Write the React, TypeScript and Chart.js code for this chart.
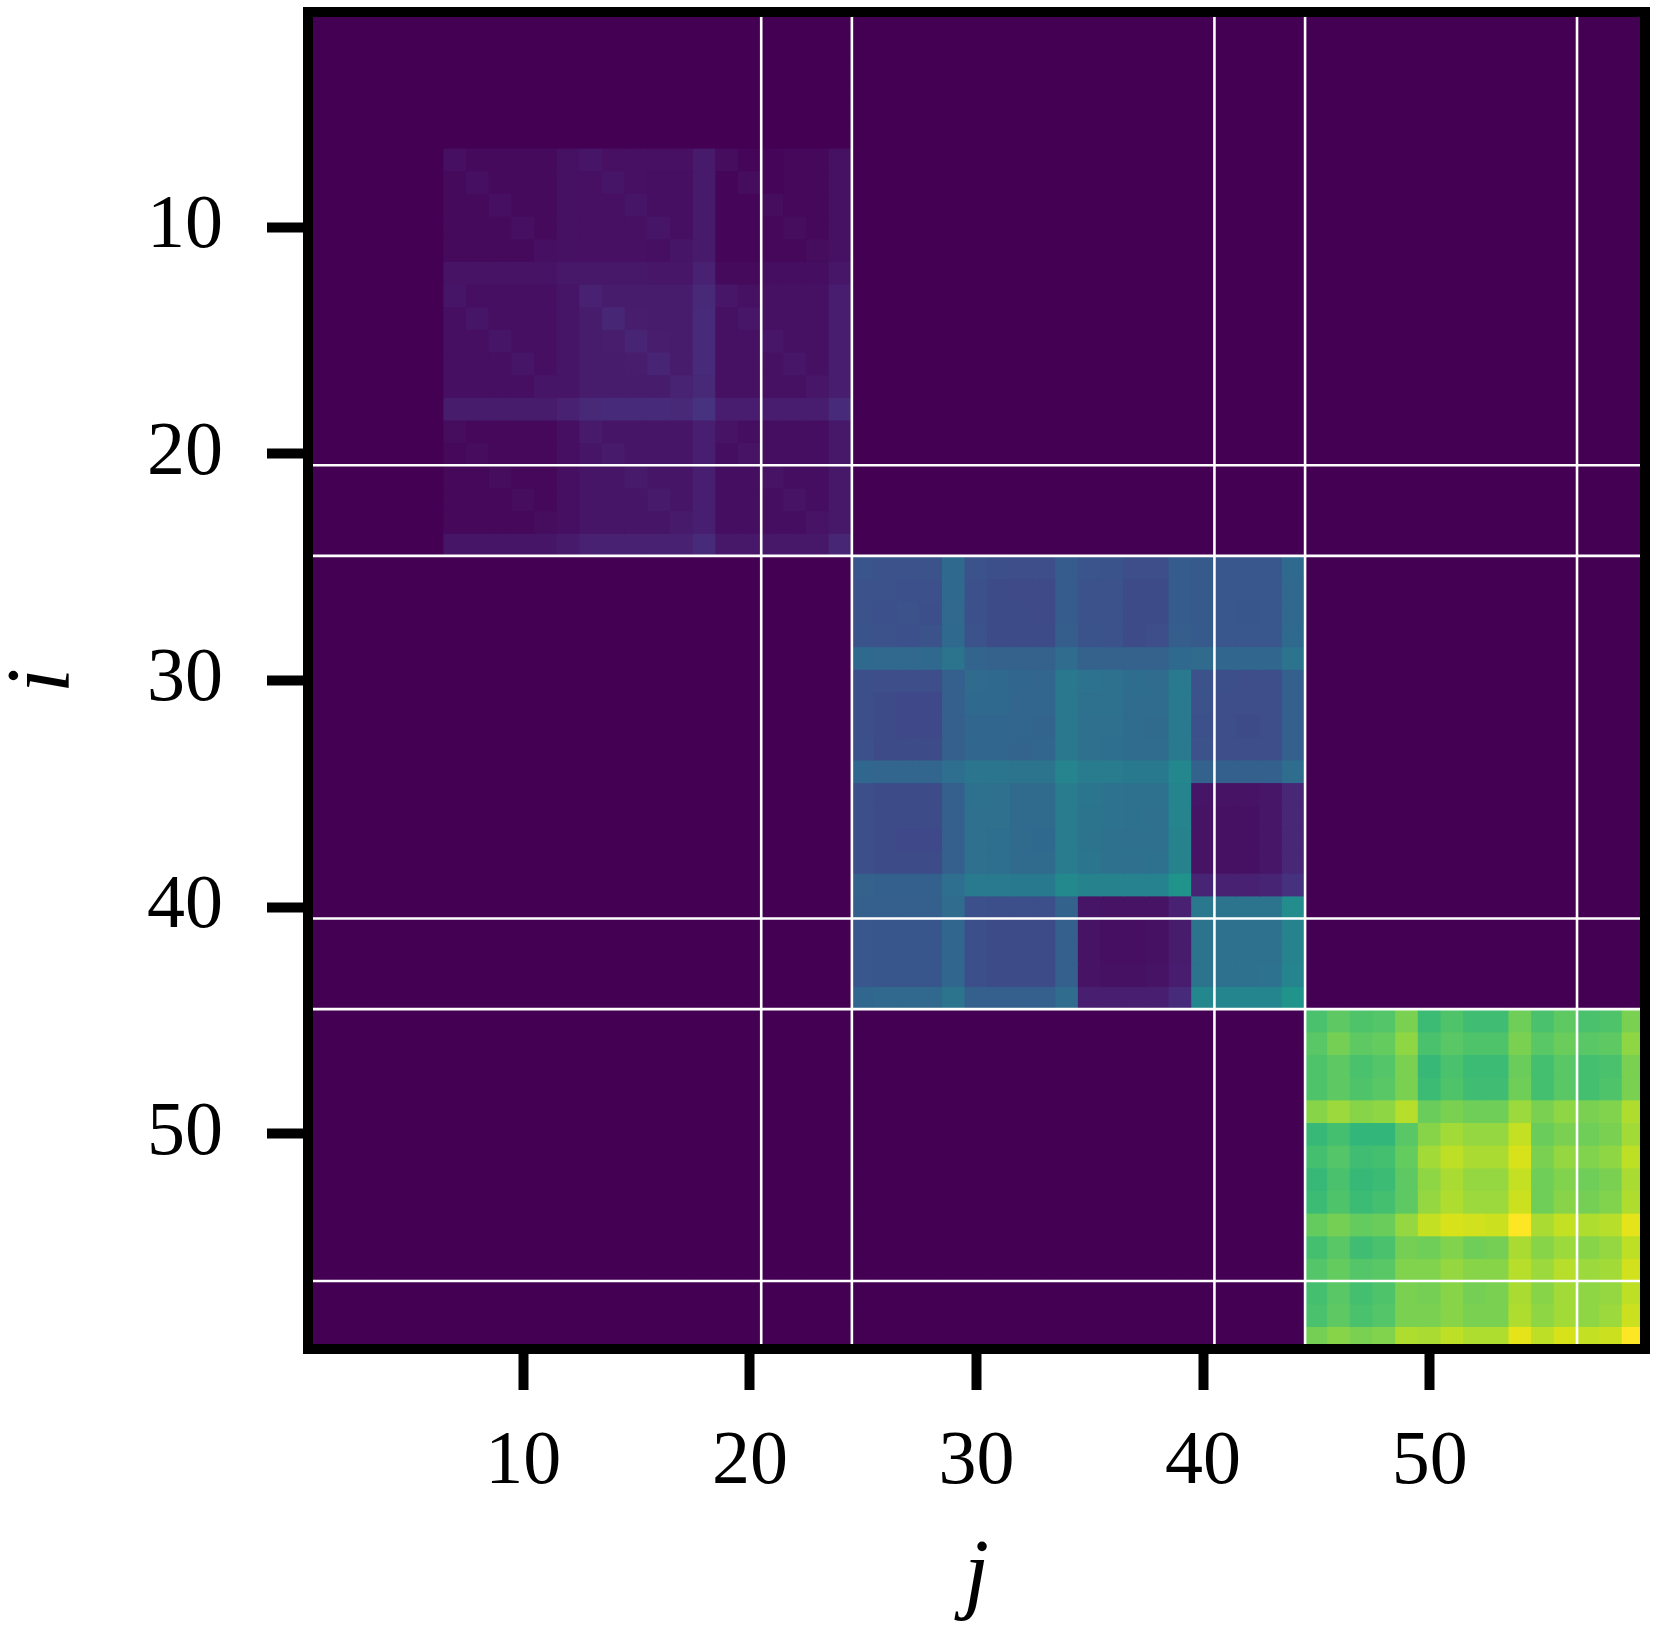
import React, { useEffect, useRef } from "react";
import { Chart, registerables } from "chart.js";

Chart.register(...registerables);

// ---------------- data ----------------
const GRID_SIZE = 59;
const tickValues = [10, 20, 30, 40, 50];
const separatorLines = [20.5, 24.5, 40.5, 44.5, 56.5];
const axisTitleX = "j";
const axisTitleY = "i";

// first row/column index (1-based) of each non-zero diagonal block
const blockStarts = [7, 25, 45];

// block rows 7..24, columns 7..24
const block1: number[][] = [
  [0.04, 0.025, 0.025, 0.025, 0.025, 0.045, 0.055, 0.042, 0.042, 0.042, 0.042, 0.07, 0.03, 0.015, 0.015, 0.02, 0.02, 0.045],
  [0.025, 0.04, 0.025, 0.025, 0.025, 0.045, 0.042, 0.055, 0.042, 0.04, 0.04, 0.07, 0.015, 0.03, 0.015, 0.02, 0.02, 0.045],
  [0.025, 0.025, 0.04, 0.025, 0.025, 0.045, 0.042, 0.042, 0.055, 0.04, 0.04, 0.072, 0.015, 0.015, 0.03, 0.02, 0.02, 0.045],
  [0.025, 0.025, 0.025, 0.04, 0.025, 0.045, 0.042, 0.042, 0.042, 0.055, 0.04, 0.072, 0.015, 0.015, 0.02, 0.032, 0.02, 0.045],
  [0.025, 0.025, 0.025, 0.025, 0.04, 0.045, 0.042, 0.042, 0.042, 0.04, 0.055, 0.072, 0.015, 0.015, 0.02, 0.02, 0.032, 0.045],
  [0.05, 0.05, 0.05, 0.05, 0.05, 0.065, 0.062, 0.062, 0.062, 0.06, 0.06, 0.09, 0.025, 0.025, 0.035, 0.035, 0.035, 0.06],
  [0.055, 0.04, 0.04, 0.04, 0.04, 0.057, 0.09, 0.075, 0.075, 0.075, 0.075, 0.115, 0.06, 0.045, 0.045, 0.045, 0.045, 0.08],
  [0.04, 0.055, 0.04, 0.04, 0.04, 0.057, 0.075, 0.105, 0.078, 0.075, 0.075, 0.12, 0.045, 0.06, 0.045, 0.045, 0.045, 0.08],
  [0.04, 0.04, 0.055, 0.04, 0.04, 0.057, 0.075, 0.078, 0.1, 0.078, 0.075, 0.12, 0.045, 0.045, 0.06, 0.045, 0.045, 0.08],
  [0.04, 0.04, 0.04, 0.055, 0.04, 0.057, 0.075, 0.075, 0.078, 0.1, 0.075, 0.118, 0.045, 0.045, 0.045, 0.06, 0.045, 0.08],
  [0.04, 0.04, 0.04, 0.04, 0.055, 0.057, 0.075, 0.075, 0.075, 0.075, 0.095, 0.115, 0.045, 0.045, 0.045, 0.045, 0.06, 0.08],
  [0.075, 0.075, 0.075, 0.075, 0.075, 0.09, 0.115, 0.12, 0.12, 0.12, 0.115, 0.145, 0.08, 0.08, 0.08, 0.08, 0.08, 0.12],
  [0.03, 0.02, 0.02, 0.02, 0.02, 0.04, 0.07, 0.055, 0.055, 0.055, 0.055, 0.085, 0.05, 0.035, 0.035, 0.035, 0.035, 0.065],
  [0.02, 0.03, 0.02, 0.02, 0.02, 0.04, 0.055, 0.07, 0.055, 0.055, 0.055, 0.085, 0.035, 0.05, 0.035, 0.035, 0.035, 0.065],
  [0.02, 0.02, 0.03, 0.02, 0.02, 0.04, 0.055, 0.055, 0.07, 0.055, 0.055, 0.085, 0.035, 0.035, 0.05, 0.035, 0.035, 0.065],
  [0.02, 0.02, 0.02, 0.03, 0.02, 0.04, 0.055, 0.055, 0.055, 0.07, 0.055, 0.085, 0.035, 0.035, 0.035, 0.05, 0.035, 0.065],
  [0.02, 0.02, 0.02, 0.02, 0.03, 0.04, 0.055, 0.055, 0.055, 0.055, 0.07, 0.085, 0.035, 0.035, 0.035, 0.035, 0.05, 0.065],
  [0.055, 0.055, 0.055, 0.055, 0.055, 0.07, 0.09, 0.09, 0.09, 0.09, 0.09, 0.12, 0.065, 0.065, 0.065, 0.065, 0.065, 0.105],
];

// block rows 25..44, columns 25..44
const block2: number[][] = [
  [0.26, 0.25, 0.25, 0.25, 0.34, 0.25, 0.24, 0.235, 0.235, 0.29, 0.26, 0.255, 0.235, 0.235, 0.29, 0.28, 0.27, 0.27, 0.27, 0.34],
  [0.25, 0.25, 0.245, 0.245, 0.34, 0.245, 0.225, 0.22, 0.22, 0.29, 0.25, 0.25, 0.23, 0.23, 0.29, 0.28, 0.27, 0.27, 0.27, 0.335],
  [0.25, 0.245, 0.25, 0.24, 0.335, 0.245, 0.225, 0.225, 0.22, 0.29, 0.25, 0.25, 0.23, 0.23, 0.29, 0.28, 0.27, 0.265, 0.27, 0.335],
  [0.255, 0.25, 0.245, 0.25, 0.34, 0.25, 0.23, 0.225, 0.225, 0.295, 0.255, 0.25, 0.23, 0.235, 0.295, 0.28, 0.27, 0.27, 0.27, 0.34],
  [0.34, 0.335, 0.335, 0.34, 0.38, 0.32, 0.31, 0.31, 0.31, 0.35, 0.31, 0.31, 0.31, 0.31, 0.34, 0.345, 0.33, 0.33, 0.33, 0.38],
  [0.24, 0.235, 0.235, 0.235, 0.3, 0.345, 0.34, 0.33, 0.325, 0.4, 0.375, 0.37, 0.355, 0.35, 0.41, 0.25, 0.24, 0.235, 0.235, 0.3],
  [0.24, 0.225, 0.215, 0.215, 0.3, 0.34, 0.34, 0.325, 0.325, 0.4, 0.37, 0.37, 0.35, 0.35, 0.41, 0.25, 0.235, 0.235, 0.235, 0.3],
  [0.24, 0.225, 0.215, 0.215, 0.3, 0.33, 0.33, 0.325, 0.32, 0.4, 0.365, 0.365, 0.35, 0.345, 0.41, 0.245, 0.235, 0.23, 0.235, 0.3],
  [0.245, 0.23, 0.225, 0.225, 0.3, 0.33, 0.33, 0.32, 0.325, 0.4, 0.365, 0.36, 0.35, 0.35, 0.41, 0.25, 0.235, 0.235, 0.235, 0.3],
  [0.33, 0.325, 0.325, 0.325, 0.36, 0.39, 0.39, 0.385, 0.385, 0.45, 0.415, 0.415, 0.405, 0.405, 0.46, 0.315, 0.305, 0.305, 0.305, 0.355],
  [0.24, 0.23, 0.23, 0.23, 0.3, 0.37, 0.365, 0.345, 0.345, 0.415, 0.39, 0.375, 0.37, 0.37, 0.45, 0.055, 0.05, 0.05, 0.06, 0.11],
  [0.24, 0.23, 0.225, 0.23, 0.3, 0.365, 0.365, 0.345, 0.345, 0.415, 0.385, 0.375, 0.37, 0.365, 0.45, 0.05, 0.045, 0.045, 0.06, 0.11],
  [0.24, 0.225, 0.215, 0.215, 0.3, 0.365, 0.36, 0.345, 0.34, 0.415, 0.385, 0.37, 0.365, 0.365, 0.445, 0.05, 0.045, 0.045, 0.06, 0.11],
  [0.24, 0.23, 0.225, 0.225, 0.3, 0.365, 0.36, 0.345, 0.345, 0.415, 0.39, 0.37, 0.365, 0.37, 0.445, 0.05, 0.045, 0.045, 0.06, 0.11],
  [0.31, 0.305, 0.305, 0.305, 0.36, 0.41, 0.41, 0.405, 0.405, 0.47, 0.445, 0.445, 0.44, 0.44, 0.51, 0.1, 0.09, 0.09, 0.1, 0.14],
  [0.3, 0.3, 0.3, 0.3, 0.35, 0.245, 0.24, 0.24, 0.24, 0.315, 0.055, 0.05, 0.05, 0.05, 0.09, 0.4, 0.385, 0.38, 0.38, 0.48],
  [0.27, 0.265, 0.265, 0.265, 0.33, 0.24, 0.23, 0.23, 0.23, 0.3, 0.05, 0.04, 0.04, 0.045, 0.075, 0.38, 0.37, 0.37, 0.37, 0.445],
  [0.27, 0.265, 0.265, 0.265, 0.33, 0.24, 0.23, 0.23, 0.23, 0.3, 0.05, 0.04, 0.04, 0.045, 0.075, 0.38, 0.37, 0.37, 0.37, 0.445],
  [0.27, 0.265, 0.265, 0.265, 0.33, 0.24, 0.23, 0.23, 0.23, 0.3, 0.05, 0.045, 0.045, 0.05, 0.08, 0.38, 0.37, 0.37, 0.375, 0.45],
  [0.33, 0.335, 0.335, 0.335, 0.38, 0.3, 0.3, 0.3, 0.3, 0.35, 0.085, 0.085, 0.085, 0.085, 0.12, 0.46, 0.455, 0.455, 0.455, 0.51],
];

// block rows 45..59, columns 45..59
const block3: number[][] = [
  [0.71, 0.75, 0.72, 0.73, 0.8, 0.68, 0.72, 0.69, 0.69, 0.78, 0.71, 0.75, 0.71, 0.72, 0.8],
  [0.74, 0.79, 0.75, 0.76, 0.83, 0.71, 0.74, 0.72, 0.72, 0.8, 0.74, 0.77, 0.74, 0.75, 0.83],
  [0.72, 0.75, 0.71, 0.73, 0.8, 0.67, 0.71, 0.68, 0.68, 0.77, 0.7, 0.74, 0.7, 0.71, 0.8],
  [0.72, 0.75, 0.72, 0.74, 0.8, 0.68, 0.72, 0.69, 0.69, 0.78, 0.7, 0.74, 0.7, 0.72, 0.8],
  [0.82, 0.85, 0.82, 0.83, 0.89, 0.77, 0.8, 0.78, 0.78, 0.85, 0.8, 0.83, 0.8, 0.81, 0.88],
  [0.67, 0.7, 0.66, 0.66, 0.74, 0.82, 0.86, 0.84, 0.84, 0.91, 0.77, 0.8, 0.78, 0.8, 0.86],
  [0.7, 0.73, 0.69, 0.7, 0.76, 0.86, 0.9, 0.87, 0.87, 0.94, 0.8, 0.84, 0.81, 0.83, 0.9],
  [0.67, 0.71, 0.67, 0.68, 0.75, 0.83, 0.87, 0.84, 0.84, 0.91, 0.78, 0.81, 0.78, 0.8, 0.87],
  [0.68, 0.72, 0.68, 0.7, 0.75, 0.84, 0.88, 0.85, 0.85, 0.92, 0.78, 0.82, 0.79, 0.81, 0.88],
  [0.76, 0.79, 0.76, 0.77, 0.84, 0.91, 0.94, 0.93, 0.92, 1.0, 0.87, 0.91, 0.88, 0.89, 0.96],
  [0.7, 0.74, 0.69, 0.71, 0.79, 0.78, 0.81, 0.78, 0.79, 0.87, 0.82, 0.85, 0.82, 0.84, 0.9],
  [0.73, 0.76, 0.73, 0.74, 0.81, 0.81, 0.84, 0.82, 0.82, 0.89, 0.85, 0.89, 0.85, 0.86, 0.93],
  [0.7, 0.74, 0.7, 0.72, 0.8, 0.79, 0.82, 0.79, 0.8, 0.87, 0.82, 0.86, 0.83, 0.84, 0.9],
  [0.71, 0.75, 0.71, 0.73, 0.8, 0.8, 0.82, 0.8, 0.8, 0.88, 0.83, 0.86, 0.83, 0.85, 0.92],
  [0.79, 0.82, 0.8, 0.81, 0.88, 0.87, 0.9, 0.88, 0.88, 0.96, 0.9, 0.94, 0.91, 0.92, 1.0],
];

// ---------------- style ----------------
const FONT_FAMILY = "'Liberation Serif', 'Times New Roman', serif";
const VIRIDIS_STOPS = [
  "#440154", "#471365", "#482475", "#463480", "#414487", "#3b528b", "#355f8d",
  "#2f6c8e", "#2a788e", "#25848e", "#21918c", "#1e9c89", "#22a884", "#2fb47c",
  "#44bf70", "#5ec962", "#7ad151", "#9bd93c", "#bddf26", "#dfe318", "#fde725",
];

function hexToRgb(h: string): number[] {
  return [1, 3, 5].map((k) => parseInt(h.slice(k, k + 2), 16));
}
const VIRIDIS_RGB = VIRIDIS_STOPS.map(hexToRgb);

function viridis(v: number): string {
  const t = Math.max(0, Math.min(1, v)) * (VIRIDIS_RGB.length - 1);
  const i = Math.min(Math.floor(t), VIRIDIS_RGB.length - 2);
  const f = t - i;
  const a = VIRIDIS_RGB[i];
  const b = VIRIDIS_RGB[i + 1];
  const c = a.map((x, k) => Math.round(x + (b[k] - x) * f));
  return `rgb(${c[0]},${c[1]},${c[2]})`;
}

function buildMatrix(): number[][] {
  const m: number[][] = [];
  for (let r = 0; r < GRID_SIZE; r++) m.push(new Array(GRID_SIZE).fill(0));
  [block1, block2, block3].forEach((blk, k) => {
    const s = blockStarts[k] - 1;
    blk.forEach((row, r) => row.forEach((v, c) => { m[s + r][s + c] = v; }));
  });
  return m;
}

const framePlugin = {
  id: "heatFrame",
  beforeDatasetsDraw(chart: any) {
    const { ctx, chartArea: a } = chart;
    ctx.save();
    ctx.fillStyle = viridis(0);
    ctx.fillRect(a.left, a.top, a.right - a.left, a.bottom - a.top);
    ctx.restore();
  },
  afterDatasetsDraw(chart: any) {
    const { ctx, chartArea: a } = chart;
    const xs = chart.scales.x;
    const ys = chart.scales.y;
    ctx.save();
    ctx.strokeStyle = "#ffffff";
    ctx.lineWidth = 2.6;
    separatorLines.forEach((v) => {
      const px = xs.getPixelForValue(v);
      ctx.beginPath();
      ctx.moveTo(px, a.top);
      ctx.lineTo(px, a.bottom);
      ctx.stroke();
      const py = ys.getPixelForValue(v);
      ctx.beginPath();
      ctx.moveTo(a.left, py);
      ctx.lineTo(a.right, py);
      ctx.stroke();
    });
    ctx.strokeStyle = "#000000";
    ctx.lineWidth = 10;
    ctx.lineJoin = "miter";
    ctx.strokeRect(a.left, a.top, a.right - a.left, a.bottom - a.top);
    ctx.restore();
  },
};

export default function App() {
  const canvasRef = useRef<HTMLCanvasElement | null>(null);

  useEffect(() => {
    const canvas = canvasRef.current;
    if (!canvas) return;
    const matrix = buildMatrix();
    const idx = Array.from({ length: GRID_SIZE }, (_, k) => k + 1);
    const datasets = idx.map((i) => ({
      label: `row ${i}`,
      data: idx.map((j) => ({ x: j, y: [i - 0.5, i + 0.5] })),
      backgroundColor: matrix[i - 1].map((v) => viridis(v)),
      borderWidth: 0,
      grouped: false,
      barPercentage: 1,
      categoryPercentage: 1,
      inflateAmount: 0.6,
    }));

    const tickFont = { family: FONT_FAMILY, size: 76, lineHeight: 1 };
    const titleFont = { family: FONT_FAMILY, size: 90, style: "italic" as const, lineHeight: 1 };
    const setTicks = (scale: any) => {
      scale.ticks = tickValues.map((v) => ({ value: v }));
    };

    const chart = new Chart(canvas, {
      type: "bar",
      data: { datasets: datasets as any },
      plugins: [framePlugin],
      options: {
        responsive: false,
        devicePixelRatio: 1,
        animation: false,
        events: [],
        layout: { padding: { left: 0, top: 12, right: 13, bottom: 0 } },
        plugins: { legend: { display: false }, tooltip: { enabled: false } },
        scales: {
          x: {
            type: "linear",
            min: 0.5,
            max: 59.5,
            offset: false,
            afterBuildTicks: setTicks,
            afterFit: (s: any) => {
              s.height = 286;
              s.paddingLeft = 0;
              s.paddingRight = 0;
            },
            border: { display: false },
            grid: {
              display: true,
              offset: false,
              drawOnChartArea: false,
              drawTicks: true,
              tickLength: 41,
              tickWidth: 10,
              tickColor: "#000000",
            },
            ticks: {
              color: "#000000",
              font: tickFont,
              padding: 35,
              maxRotation: 0,
              minRotation: 0,
              autoSkip: false,
              callback: (v: any) => String(v),
            },
            title: {
              display: true,
              text: axisTitleX,
              color: "#000000",
              font: titleFont,
              padding: { top: 0, bottom: 12 },
            },
          },
          y: {
            type: "linear",
            min: 0.5,
            max: 59.5,
            reverse: true,
            offset: false,
            afterBuildTicks: setTicks,
            afterFit: (s: any) => {
              s.width = 308;
              s.paddingTop = 0;
              s.paddingBottom = 0;
            },
            border: { display: false },
            grid: {
              display: true,
              offset: false,
              drawOnChartArea: false,
              drawTicks: true,
              tickLength: 41,
              tickWidth: 10,
              tickColor: "#000000",
            },
            ticks: {
              color: "#000000",
              font: tickFont,
              padding: 44,
              autoSkip: false,
              callback: (v: any) => String(v),
            },
            title: {
              display: true,
              text: axisTitleY,
              color: "#000000",
              font: titleFont,
              padding: { top: 0, bottom: 0 },
            },
          },
        },
      } as any,
    });
    return () => chart.destroy();
  }, []);

  return (
    <div style={{ position: "absolute", left: 0, top: 0, width: 1658, height: 1635, background: "#ffffff" }}>
      <canvas ref={canvasRef} width={1658} height={1635} style={{ display: "block" }} />
    </div>
  );
}
